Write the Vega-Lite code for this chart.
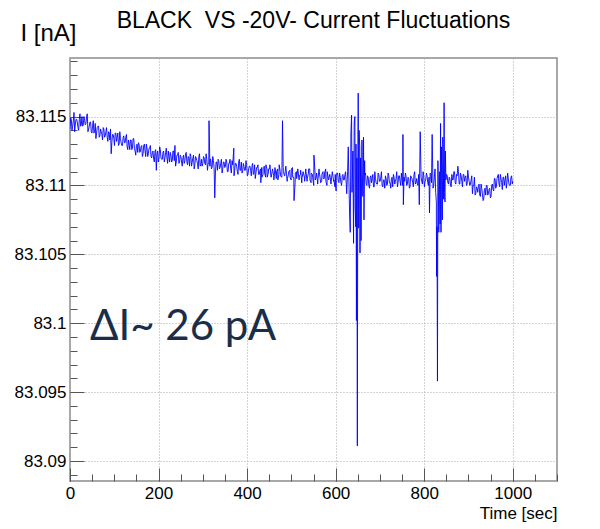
{
  "$schema": "https://vega.github.io/schema/vega-lite/v6.json",
  "width": 487,
  "height": 423,
  "autosize": {"type": "none"},
  "padding": {"left": 70, "top": 58, "right": 43, "bottom": 48},
  "background": "white",
  "title": {"text": "BLACK\u00a0 VS -20V- Current Fluctuations", "font": "Liberation Sans", "fontSize": 23, "fontWeight": "normal", "color": "black", "anchor": "middle", "offset": -12},
  "config": {"view": {"stroke": "#8c8c8c", "strokeWidth": 1.5}, "font": "Liberation Sans"},
  "resolve": {"scale": {"x": "independent", "y": "independent"}, "axis": {"x": "independent", "y": "independent"}},
  "datasets": {
    "series": [
{"t":0,"i":83.1141},{"t":3,"i":83.1148},{"t":6,"i":83.1143},{"t":9,"i":83.1153},{"t":12,"i":83.1144},{"t":15,"i":83.1148},{"t":18,"i":83.1142},{"t":21,"i":83.1148},{"t":24,"i":83.1143},{"t":27,"i":83.1150},{"t":30,"i":83.1144},{"t":33,"i":83.1147},{"t":36,"i":83.1145},{"t":39,"i":83.1152},{"t":42,"i":83.1141},{"t":45,"i":83.1146},{"t":48,"i":83.1139},{"t":51,"i":83.1143},{"t":54,"i":83.1138},{"t":57,"i":83.1145},{"t":60,"i":83.1138},{"t":63,"i":83.1143},{"t":66,"i":83.1135},{"t":69,"i":83.1141},{"t":72,"i":83.1137},{"t":75,"i":83.1142},{"t":78,"i":83.1135},{"t":81,"i":83.1139},{"t":84,"i":83.1135},{"t":87,"i":83.1139},{"t":90,"i":83.1133},{"t":93,"i":83.1123},{"t":96,"i":83.1137},{"t":99,"i":83.1134},
{"t":102,"i":83.1138},{"t":105,"i":83.1132},{"t":108,"i":83.1138},{"t":111,"i":83.1130},{"t":114,"i":83.1134},{"t":117,"i":83.1129},{"t":120,"i":83.1135},{"t":123,"i":83.1131},{"t":126,"i":83.1135},{"t":129,"i":83.1128},{"t":132,"i":83.1133},{"t":135,"i":83.1126},{"t":138,"i":83.1133},{"t":141,"i":83.1127},{"t":144,"i":83.1134},{"t":147,"i":83.1125},{"t":150,"i":83.1129},{"t":153,"i":83.1124},{"t":156,"i":83.1130},{"t":159,"i":83.1125},{"t":162,"i":83.1129},{"t":165,"i":83.1123},{"t":168,"i":83.1130},{"t":171,"i":83.1121},{"t":174,"i":83.1127},{"t":177,"i":83.1123},{"t":180,"i":83.1127},{"t":183,"i":83.1121},{"t":186,"i":83.1124},{"t":189,"i":83.1119},{"t":192,"i":83.1125},{"t":195,"i":83.1111},{"t":198,"i":83.1125},{"t":201,"i":83.1120},
{"t":204,"i":83.1126},{"t":207,"i":83.1119},{"t":210,"i":83.1124},{"t":213,"i":83.1117},{"t":216,"i":83.1124},{"t":219,"i":83.1120},{"t":222,"i":83.1125},{"t":225,"i":83.1117},{"t":228,"i":83.1122},{"t":231,"i":83.1118},{"t":234,"i":83.1125},{"t":237,"i":83.1129},{"t":240,"i":83.1117},{"t":243,"i":83.1122},{"t":246,"i":83.1116},{"t":249,"i":83.1122},{"t":252,"i":83.1117},{"t":255,"i":83.1120},{"t":258,"i":83.1116},{"t":261,"i":83.1123},{"t":264,"i":83.1117},{"t":267,"i":83.1121},{"t":270,"i":83.1114},{"t":273,"i":83.1121},{"t":276,"i":83.1117},{"t":279,"i":83.1122},{"t":282,"i":83.1115},{"t":285,"i":83.1120},{"t":288,"i":83.1116},{"t":291,"i":83.1121},{"t":294,"i":83.1114},{"t":297,"i":83.1119},{"t":300,"i":83.1116},{"t":303,"i":83.1120},
{"t":306,"i":83.1115},{"t":309,"i":83.1119},{"t":312,"i":83.1116},{"t":314,"i":83.1147},{"t":316,"i":83.1114},{"t":318,"i":83.1119},{"t":321,"i":83.1113},{"t":324,"i":83.1118},{"t":327,"i":83.1091},{"t":330,"i":83.1117},{"t":333,"i":83.1111},{"t":336,"i":83.1118},{"t":339,"i":83.1113},{"t":342,"i":83.1119},{"t":345,"i":83.1112},{"t":348,"i":83.1117},{"t":351,"i":83.1114},{"t":354,"i":83.1117},{"t":357,"i":83.1110},{"t":360,"i":83.1116},{"t":363,"i":83.1112},{"t":366,"i":83.1118},{"t":370,"i":83.1127},{"t":372,"i":83.1111},{"t":375,"i":83.1116},{"t":378,"i":83.1110},{"t":381,"i":83.1117},{"t":384,"i":83.1111},{"t":387,"i":83.1117},{"t":390,"i":83.1110},{"t":393,"i":83.1114},{"t":396,"i":83.1111},{"t":399,"i":83.1115},{"t":402,"i":83.1108},{"t":405,"i":83.1114},
{"t":408,"i":83.1111},{"t":411,"i":83.1114},{"t":414,"i":83.1108},{"t":417,"i":83.1115},{"t":420,"i":83.1109},{"t":423,"i":83.1113},{"t":426,"i":83.1108},{"t":429,"i":83.1111},{"t":431,"i":83.1102},{"t":433,"i":83.1113},{"t":436,"i":83.1108},{"t":439,"i":83.1114},{"t":442,"i":83.1106},{"t":445,"i":83.1112},{"t":448,"i":83.1109},{"t":451,"i":83.1112},{"t":454,"i":83.1106},{"t":457,"i":83.1111},{"t":460,"i":83.1107},{"t":463,"i":83.1113},{"t":466,"i":83.1105},{"t":469,"i":83.1112},{"t":472,"i":83.1108},{"t":475,"i":83.1110},{"t":478,"i":83.1106},{"t":480,"i":83.1147},{"t":482,"i":83.1110},{"t":485,"i":83.1107},{"t":488,"i":83.1112},{"t":491,"i":83.1105},{"t":494,"i":83.1110},{"t":497,"i":83.1106},{"t":500,"i":83.1112},{"t":503,"i":83.1106},{"t":506,"i":83.1089},{"t":509,"i":83.1109},
{"t":512,"i":83.1105},{"t":515,"i":83.1111},{"t":518,"i":83.1107},{"t":521,"i":83.1111},{"t":524,"i":83.1105},{"t":527,"i":83.1109},{"t":530,"i":83.1103},{"t":533,"i":83.1110},{"t":536,"i":83.1105},{"t":539,"i":83.1112},{"t":542,"i":83.1104},{"t":545,"i":83.1109},{"t":548,"i":83.1106},{"t":551,"i":83.1122},{"t":554,"i":83.1104},{"t":557,"i":83.1109},{"t":560,"i":83.1104},{"t":563,"i":83.1110},{"t":566,"i":83.1102},{"t":569,"i":83.1108},{"t":572,"i":83.1105},{"t":575,"i":83.1109},{"t":578,"i":83.1103},{"t":581,"i":83.1110},{"t":584,"i":83.1104},{"t":587,"i":83.1108},{"t":590,"i":83.1103},{"t":593,"i":83.1109},{"t":596,"i":83.1104},{"t":599,"i":83.1108},{"t":601,"i":83.1096},{"t":603,"i":83.1109},
{"t":606,"i":83.1103},{"t":609,"i":83.1109},{"t":612,"i":83.1102},{"t":615,"i":83.1107},{"t":618,"i":83.1104},{"t":621,"i":83.1108},{"t":625,"i":83.1094},{"t":627,"i":83.1110},{"t":630,"i":83.1103},{"t":633,"i":83.1066},{"t":636,"i":83.1151},{"t":637,"i":83.1095},{"t":639,"i":83.1125},{"t":641,"i":83.1095},{"t":642,"i":83.1146},{"t":644,"i":83.1085},{"t":646,"i":83.1130},{"t":647,"i":83.1002},{"t":648,"i":83.1120},{"t":649,"i":83.0911},{"t":650,"i":83.1105},{"t":651,"i":83.1167},{"t":652,"i":83.1069},{"t":653,"i":83.1140},{"t":655,"i":83.1051},{"t":656,"i":83.1120},{"t":658,"i":83.1085},{"t":660,"i":83.1112},{"t":663,"i":83.1135},{"t":664,"i":83.1075},{"t":666,"i":83.1108},
{"t":669,"i":83.1101},{"t":672,"i":83.1107},{"t":675,"i":83.1100},{"t":678,"i":83.1106},{"t":681,"i":83.1102},{"t":684,"i":83.1108},{"t":687,"i":83.1099},{"t":690,"i":83.1105},{"t":693,"i":83.1101},{"t":696,"i":83.1109},{"t":699,"i":83.1103},{"t":702,"i":83.1106},{"t":705,"i":83.1100},{"t":708,"i":83.1104},{"t":711,"i":83.1098},{"t":714,"i":83.1105},{"t":717,"i":83.1101},{"t":720,"i":83.1107},{"t":723,"i":83.1102},{"t":726,"i":83.1105},{"t":729,"i":83.1099},{"t":732,"i":83.1106},{"t":735,"i":83.1103},{"t":738,"i":83.1110},{"t":741,"i":83.1102},{"t":744,"i":83.1107},{"t":747,"i":83.1100},{"t":750,"i":83.1104},{"t":752,"i":83.1137},{"t":753,"i":83.1086},{"t":756,"i":83.1103},{"t":759,"i":83.1107},{"t":762,"i":83.1101},{"t":765,"i":83.1105},{"t":768,"i":83.1099},{"t":771,"i":83.1106},{"t":774,"i":83.1102},{"t":777,"i":83.1108},{"t":780,"i":83.1101},{"t":783,"i":83.1105},{"t":786,"i":83.1100},{"t":789,"i":83.1086},{"t":791,"i":83.1139},{"t":793,"i":83.1106},{"t":796,"i":83.1101},{"t":799,"i":83.1107},
{"t":802,"i":83.1103},{"t":805,"i":83.1109},{"t":808,"i":83.1102},{"t":811,"i":83.1106},{"t":812,"i":83.1080},{"t":815,"i":83.1108},{"t":818,"i":83.1137},{"t":820,"i":83.1098},{"t":823,"i":83.1106},{"t":826,"i":83.1095},{"t":828,"i":83.1034},{"t":830,"i":83.0958},{"t":832,"i":83.1100},{"t":833,"i":83.1066},{"t":835,"i":83.1110},{"t":836,"i":83.1072},{"t":837,"i":83.1145},{"t":838,"i":83.1066},{"t":840,"i":83.1105},{"t":842,"i":83.1135},{"t":844,"i":83.1090},{"t":845,"i":83.1160},{"t":847,"i":83.1088},{"t":849,"i":83.1104},
{"t":852,"i":83.1107},{"t":855,"i":83.1101},{"t":858,"i":83.1105},{"t":861,"i":83.1099},{"t":864,"i":83.1104},{"t":867,"i":83.1110},{"t":870,"i":83.1102},{"t":873,"i":83.1108},{"t":876,"i":83.1114},{"t":879,"i":83.1101},{"t":882,"i":83.1109},{"t":885,"i":83.1103},{"t":888,"i":83.1108},{"t":891,"i":83.1103},{"t":894,"i":83.1107},{"t":897,"i":83.1101},{"t":900,"i":83.1106},{"t":903,"i":83.1100},{"t":906,"i":83.1104},{"t":909,"i":83.1094},{"t":912,"i":83.1100},{"t":915,"i":83.1093},{"t":918,"i":83.1099},{"t":921,"i":83.1095},{"t":924,"i":83.1101},{"t":927,"i":83.1092},{"t":930,"i":83.1098},{"t":933,"i":83.1089},{"t":936,"i":83.1097},{"t":939,"i":83.1093},{"t":942,"i":83.1100},{"t":945,"i":83.1094},{"t":948,"i":83.1098},{"t":951,"i":83.1092},{"t":954,"i":83.1101},{"t":957,"i":83.1096},{"t":960,"i":83.1105},{"t":963,"i":83.1099},{"t":966,"i":83.1107},{"t":969,"i":83.1101},{"t":972,"i":83.1108},{"t":975,"i":83.1102},{"t":978,"i":83.1106},{"t":981,"i":83.1100},{"t":984,"i":83.1107},{"t":987,"i":83.1102},{"t":990,"i":83.1105},{"t":993,"i":83.1100},{"t":996,"i":83.1106},{"t":999,"i":83.1101},{"t":1000,"i":83.1103},
{"t":1.5,"i":83.1149},{"t":4.5,"i":83.1140},{"t":7.5,"i":83.1147},{"t":10.5,"i":83.1139},{"t":13.5,"i":83.1148},{"t":16.5,"i":83.1146},{"t":19.5,"i":83.1140},{"t":22.5,"i":83.1152},{"t":25.5,"i":83.1144},{"t":28.5,"i":83.1143},{"t":31.5,"i":83.1150},{"t":34.5,"i":83.1144},{"t":37.5,"i":83.1150},{"t":40.5,"i":83.1139},{"t":43.5,"i":83.1143},{"t":46.5,"i":83.1146},{"t":49.5,"i":83.1138},{"t":52.5,"i":83.1147},{"t":55.5,"i":83.1139},{"t":58.5,"i":83.1134},{"t":61.5,"i":83.1142},{"t":64.5,"i":83.1143},{"t":67.5,"i":83.1136},{"t":70.5,"i":83.1139},{"t":73.5,"i":83.1133},{"t":76.5,"i":83.1141},{"t":79.5,"i":83.1136},{"t":82.5,"i":83.1142},{"t":85.5,"i":83.1132},{"t":88.5,"i":83.1138},{"t":91.5,"i":83.1141},{"t":94.5,"i":83.1131},{"t":97.5,"i":83.1137},
{"t":100.5,"i":83.1129},{"t":103.5,"i":83.1138},{"t":106.5,"i":83.1135},{"t":109.5,"i":83.1129},{"t":112.5,"i":83.1139},{"t":115.5,"i":83.1131},{"t":118.5,"i":83.1129},{"t":121.5,"i":83.1136},{"t":124.5,"i":83.1131},{"t":127.5,"i":83.1137},{"t":130.5,"i":83.1126},{"t":133.5,"i":83.1130},{"t":136.5,"i":83.1133},{"t":139.5,"i":83.1126},{"t":142.5,"i":83.1134},{"t":145.5,"i":83.1127},{"t":148.5,"i":83.1122},{"t":151.5,"i":83.1130},{"t":154.5,"i":83.1131},{"t":157.5,"i":83.1124},{"t":160.5,"i":83.1128},{"t":163.5,"i":83.1121},{"t":166.5,"i":83.1129},{"t":169.5,"i":83.1125},{"t":172.5,"i":83.1130},{"t":175.5,"i":83.1121},{"t":178.5,"i":83.1127},{"t":181.5,"i":83.1129},{"t":184.5,"i":83.1120},{"t":187.5,"i":83.1125},{"t":190.5,"i":83.1117},{"t":193.5,"i":83.1126},{"t":196.5,"i":83.1123},{"t":199.5,"i":83.1117},
{"t":202.5,"i":83.1128},{"t":205.5,"i":83.1120},{"t":208.5,"i":83.1119},{"t":211.5,"i":83.1125},{"t":214.5,"i":83.1120},{"t":217.5,"i":83.1127},{"t":220.5,"i":83.1116},{"t":223.5,"i":83.1121},{"t":226.5,"i":83.1124},{"t":229.5,"i":83.1117},{"t":232.5,"i":83.1125},{"t":235.5,"i":83.1118},{"t":238.5,"i":83.1114},{"t":241.5,"i":83.1122},{"t":244.5,"i":83.1124},{"t":247.5,"i":83.1117},{"t":250.5,"i":83.1121},{"t":253.5,"i":83.1114},{"t":256.5,"i":83.1122},{"t":259.5,"i":83.1118},{"t":262.5,"i":83.1124},{"t":265.5,"i":83.1115},{"t":268.5,"i":83.1120},{"t":271.5,"i":83.1123},{"t":274.5,"i":83.1114},{"t":277.5,"i":83.1120},{"t":280.5,"i":83.1112},{"t":283.5,"i":83.1121},{"t":286.5,"i":83.1118},{"t":289.5,"i":83.1112},{"t":292.5,"i":83.1123},{"t":295.5,"i":83.1115},{"t":298.5,"i":83.1114},
{"t":301.5,"i":83.1121},{"t":304.5,"i":83.1116},{"t":307.5,"i":83.1123},{"t":310.5,"i":83.1111},{"t":313.5,"i":83.1116},{"t":316.5,"i":83.1119},{"t":319.5,"i":83.1112},{"t":322.5,"i":83.1121},{"t":325.5,"i":83.1113},{"t":328.5,"i":83.1109},{"t":331.5,"i":83.1117},{"t":334.5,"i":83.1119},{"t":337.5,"i":83.1112},{"t":340.5,"i":83.1116},{"t":343.5,"i":83.1109},{"t":346.5,"i":83.1117},{"t":349.5,"i":83.1113},{"t":352.5,"i":83.1119},{"t":355.5,"i":83.1110},{"t":358.5,"i":83.1116},{"t":361.5,"i":83.1119},{"t":364.5,"i":83.1109},{"t":367.5,"i":83.1115},{"t":370.5,"i":83.1107},{"t":373.5,"i":83.1116},{"t":376.5,"i":83.1114},{"t":379.5,"i":83.1108},{"t":382.5,"i":83.1119},{"t":385.5,"i":83.1111},{"t":388.5,"i":83.1109},{"t":391.5,"i":83.1116},{"t":394.5,"i":83.1111},{"t":397.5,"i":83.1118},
{"t":400.5,"i":83.1107},{"t":403.5,"i":83.1112},{"t":406.5,"i":83.1114},{"t":409.5,"i":83.1107},{"t":412.5,"i":83.1116},{"t":415.5,"i":83.1109},{"t":418.5,"i":83.1105},{"t":421.5,"i":83.1113},{"t":424.5,"i":83.1115},{"t":427.5,"i":83.1108},{"t":430.5,"i":83.1112},{"t":433.5,"i":83.1106},{"t":436.5,"i":83.1113},{"t":439.5,"i":83.1109},{"t":442.5,"i":83.1115},{"t":445.5,"i":83.1106},{"t":448.5,"i":83.1112},{"t":451.5,"i":83.1115},{"t":454.5,"i":83.1106},{"t":457.5,"i":83.1112},{"t":460.5,"i":83.1104},{"t":463.5,"i":83.1112},{"t":466.5,"i":83.1110},{"t":469.5,"i":83.1104},{"t":472.5,"i":83.1115},{"t":475.5,"i":83.1107},{"t":478.5,"i":83.1106},{"t":481.5,"i":83.1113},{"t":484.5,"i":83.1107},{"t":487.5,"i":83.1114},{"t":490.5,"i":83.1103},{"t":493.5,"i":83.1108},{"t":496.5,"i":83.1111},{"t":499.5,"i":83.1104},
{"t":502.5,"i":83.1113},{"t":505.5,"i":83.1106},{"t":508.5,"i":83.1102},{"t":511.5,"i":83.1110},{"t":514.5,"i":83.1112},{"t":517.5,"i":83.1104},{"t":520.5,"i":83.1108},{"t":523.5,"i":83.1102},{"t":526.5,"i":83.1110},{"t":529.5,"i":83.1106},{"t":532.5,"i":83.1112},{"t":535.5,"i":83.1103},{"t":538.5,"i":83.1109},{"t":541.5,"i":83.1112},{"t":544.5,"i":83.1102},{"t":547.5,"i":83.1108},{"t":550.5,"i":83.1100},{"t":553.5,"i":83.1109},{"t":556.5,"i":83.1107},{"t":559.5,"i":83.1101},{"t":562.5,"i":83.1112},{"t":565.5,"i":83.1104},{"t":568.5,"i":83.1103},{"t":571.5,"i":83.1110},{"t":574.5,"i":83.1105},{"t":577.5,"i":83.1112},{"t":580.5,"i":83.1100},{"t":583.5,"i":83.1105},{"t":586.5,"i":83.1108},{"t":589.5,"i":83.1101},{"t":592.5,"i":83.1110},{"t":595.5,"i":83.1103},{"t":598.5,"i":83.1099},
{"t":601.5,"i":83.1107},{"t":604.5,"i":83.1109},{"t":607.5,"i":83.1102},{"t":610.5,"i":83.1106},{"t":613.5,"i":83.1100},{"t":616.5,"i":83.1108},{"t":619.5,"i":83.1104},{"t":622.5,"i":83.1110},{"t":628.5,"i":83.1128},{"t":631.5,"i":83.1080},{"t":634.5,"i":83.1138},{"t":640.5,"i":83.1058},{"t":643.5,"i":83.1150},{"t":645.5,"i":83.1070},{"t":654.5,"i":83.1128},{"t":657.5,"i":83.1060},{"t":659.5,"i":83.1133},{"t":661.5,"i":83.1092},{"t":665.5,"i":83.1118},
{"t":667.5,"i":83.1109},{"t":670.5,"i":83.1100},{"t":673.5,"i":83.1106},{"t":676.5,"i":83.1098},{"t":679.5,"i":83.1107},{"t":682.5,"i":83.1105},{"t":685.5,"i":83.1099},{"t":688.5,"i":83.1110},{"t":691.5,"i":83.1102},{"t":694.5,"i":83.1101},{"t":697.5,"i":83.1108},{"t":700.5,"i":83.1103},{"t":703.5,"i":83.1110},{"t":706.5,"i":83.1099},{"t":709.5,"i":83.1104},{"t":712.5,"i":83.1107},{"t":715.5,"i":83.1100},{"t":718.5,"i":83.1109},{"t":721.5,"i":83.1102},{"t":724.5,"i":83.1098},{"t":727.5,"i":83.1106},{"t":730.5,"i":83.1108},{"t":733.5,"i":83.1101},{"t":736.5,"i":83.1105},{"t":739.5,"i":83.1099},{"t":742.5,"i":83.1107},{"t":745.5,"i":83.1103},{"t":748.5,"i":83.1109},{"t":751.5,"i":83.1100},{"t":754.5,"i":83.1106},{"t":757.5,"i":83.1109},{"t":760.5,"i":83.1100},{"t":763.5,"i":83.1106},{"t":766.5,"i":83.1098},{"t":769.5,"i":83.1107},{"t":772.5,"i":83.1105},{"t":775.5,"i":83.1099},{"t":778.5,"i":83.1110},{"t":781.5,"i":83.1102},{"t":784.5,"i":83.1101},{"t":787.5,"i":83.1108},{"t":794.5,"i":83.1103},{"t":797.5,"i":83.1110},
{"t":800.5,"i":83.1099},{"t":803.5,"i":83.1104},{"t":806.5,"i":83.1107},{"t":809.5,"i":83.1100},{"t":813.5,"i":83.1109},{"t":816.5,"i":83.1102},{"t":821.5,"i":83.1100},{"t":824.5,"i":83.1112},{"t":827.5,"i":83.1088},{"t":829,"i":83.1070},{"t":831,"i":83.1118},{"t":834,"i":83.1090},{"t":839,"i":83.1128},{"t":841,"i":83.1075},{"t":843,"i":83.1120},{"t":846,"i":83.1095},{"t":848,"i":83.1125},{"t":850.5,"i":83.1108},{"t":853.5,"i":83.1102},{"t":856.5,"i":83.1106},{"t":859.5,"i":83.1100},{"t":862.5,"i":83.1108},{"t":865.5,"i":83.1104},{"t":868.5,"i":83.1110},{"t":871.5,"i":83.1101},{"t":874.5,"i":83.1107},{"t":877.5,"i":83.1110},{"t":880.5,"i":83.1101},{"t":883.5,"i":83.1107},{"t":886.5,"i":83.1099},{"t":889.5,"i":83.1108},{"t":892.5,"i":83.1106},{"t":895.5,"i":83.1100},{"t":898.5,"i":83.1111},
{"t":901.5,"i":83.1103},{"t":904.5,"i":83.1101},{"t":907.5,"i":83.1107},{"t":910.5,"i":83.1100},{"t":913.5,"i":83.1106},{"t":916.5,"i":83.1094},{"t":919.5,"i":83.1098},{"t":922.5,"i":83.1100},{"t":925.5,"i":83.1093},{"t":928.5,"i":83.1101},{"t":931.5,"i":83.1094},{"t":934.5,"i":83.1090},{"t":937.5,"i":83.1098},{"t":940.5,"i":83.1100},{"t":943.5,"i":83.1093},{"t":946.5,"i":83.1097},{"t":949.5,"i":83.1091},{"t":952.5,"i":83.1100},{"t":955.5,"i":83.1097},{"t":958.5,"i":83.1105},{"t":961.5,"i":83.1098},{"t":964.5,"i":83.1105},{"t":967.5,"i":83.1108},{"t":970.5,"i":83.1099},{"t":973.5,"i":83.1105},{"t":976.5,"i":83.1097},{"t":979.5,"i":83.1106},{"t":982.5,"i":83.1104},{"t":985.5,"i":83.1098},{"t":988.5,"i":83.1109},{"t":991.5,"i":83.1101},{"t":994.5,"i":83.1100},{"t":997.5,"i":83.1107}
    ],
    "note": [{"t": 45, "i": 83.0988, "label": "ΔI~ 26 pA"}]
  },
  "layer": [
    {
      "data": {"name": "series"},
      "mark": {"type": "line", "color": "#0000ff", "strokeWidth": 0.9, "clip": true},
      "encoding": {
        "x": {
          "field": "t", "type": "quantitative",
          "scale": {"domain": [0, 1100], "nice": false, "zero": false},
          "axis": {
            "orient": "bottom",
            "values": [0, 200, 400, 600, 800, 1000],
            "labelExpr": "format(datum.value, 'd')",
            "labelFlush": false, "labelOverlap": false, "labelBound": false,
            "labelFont": "Liberation Sans", "labelFontSize": 17, "labelColor": "black", "labelPadding": 17,
            "tickSize": -13, "tickColor": "#555555",
            "domain": false,
            "grid": true, "gridColor": "#a8a8a8", "gridDash": [1, 2],
            "title": "Time [sec]", "titleFont": "Liberation Sans", "titleFontSize": 17, "titleFontWeight": "normal", "titleColor": "black",
            "titleX": 487, "titleY": 37, "titleAlign": "right", "titleBaseline": "alphabetic"
          }
        },
        "y": {
          "field": "i", "type": "quantitative",
          "scale": {"domain": [83.08855, 83.11925], "nice": false, "zero": false},
          "axis": {
            "orient": "left",
            "values": [83.09, 83.095, 83.1, 83.105, 83.11, 83.115],
            "labelExpr": "format(datum.value, '.6~g')",
            "labelOverlap": false, "labelBound": false, "labelFlush": false,
            "labelFont": "Liberation Sans", "labelFontSize": 17, "labelColor": "black", "labelPadding": 18,
            "tickSize": -14, "tickColor": "#555555",
            "domain": false,
            "grid": true, "gridColor": "#a8a8a8", "gridDash": [1, 2],
            "title": "I [nA]", "titleFont": "Liberation Sans", "titleFontSize": 24, "titleFontWeight": "normal", "titleColor": "black",
            "titleAngle": 0, "titleX": -50, "titleY": -18, "titleAlign": "left", "titleBaseline": "alphabetic"
          }
        }
      }
    },
    {
      "data": {"name": "note"},
      "mark": {"type": "text", "font": "Lato", "fontSize": 42, "color": "#1a2e4a", "align": "left", "baseline": "alphabetic"},
      "encoding": {
        "x": {
          "field": "t", "type": "quantitative",
          "scale": {"domain": [0, 1100], "nice": false, "zero": false},
          "axis": {
            "orient": "bottom",
            "values": [0,50,100,150,200,250,300,350,400,450,500,550,600,650,700,750,800,850,900,950,1000,1050,1100],
            "labels": false, "grid": false, "domain": false, "title": null,
            "tickSize": -7, "tickColor": "#555555"
          }
        },
        "y": {
          "field": "i", "type": "quantitative",
          "scale": {"domain": [83.08855, 83.11925], "nice": false, "zero": false},
          "axis": {
            "orient": "left",
            "values": [83.089,83.09,83.091,83.092,83.093,83.094,83.095,83.096,83.097,83.098,83.099,83.1,83.101,83.102,83.103,83.104,83.105,83.106,83.107,83.108,83.109,83.11,83.111,83.112,83.113,83.114,83.115,83.116,83.117,83.118,83.119],
            "labels": false, "grid": false, "domain": false, "title": null,
            "tickSize": -7, "tickColor": "#555555"
          }
        },
        "text": {"field": "label"}
      }
    }
  ]
}
